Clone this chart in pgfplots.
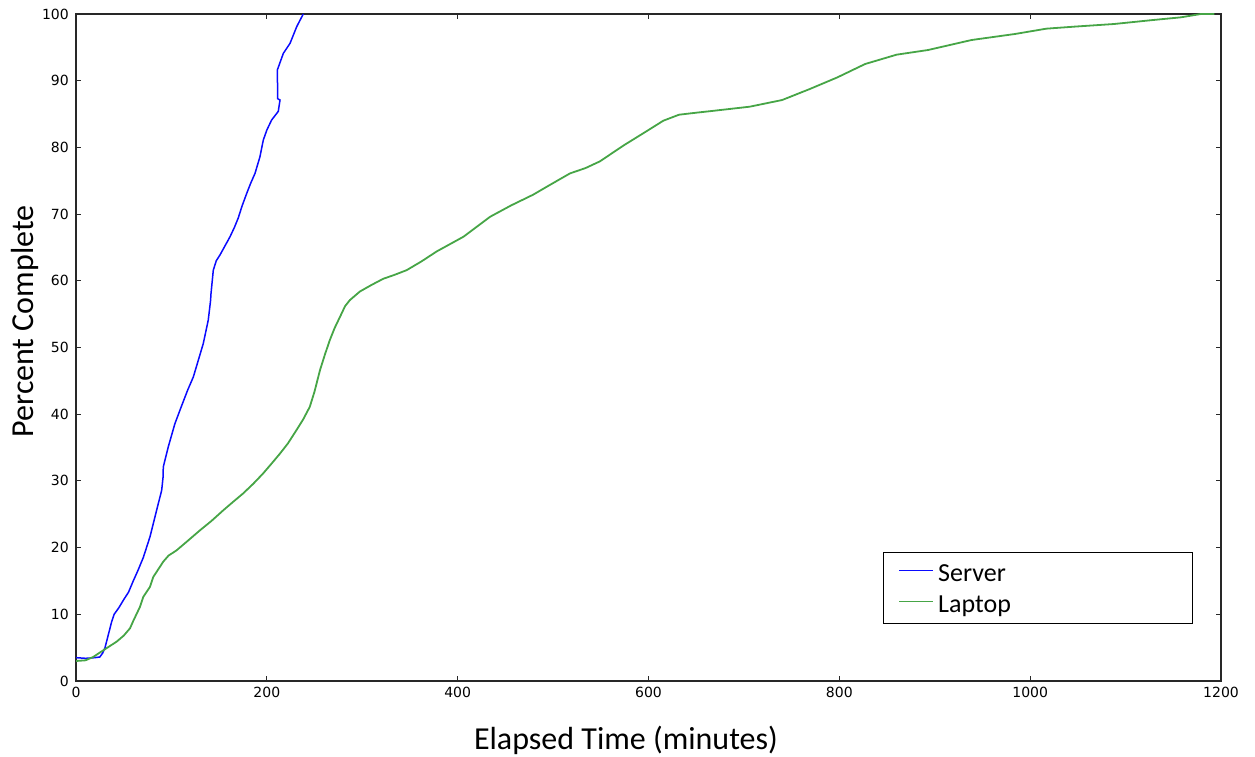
\documentclass[border=0pt]{standalone}
\usepackage{fontspec}
\setmainfont{Carlito}
\newfontfamily\dejavu{DejaVu Sans}
\usepackage{pgfplots}
\pgfplotsset{compat=1.18}
\definecolor{srv}{RGB}{10,10,255}
\definecolor{lap}{RGB}{70,165,70}
\definecolor{frame}{RGB}{40,40,40}
\begin{document}
\begin{tikzpicture}
\path[use as bounding box] (-76pt,-76pt) rectangle (1179pt,681pt);
\begin{axis}[
 scale only axis, width=1145pt, height=667pt,
 xmin=0,xmax=1200,ymin=0,ymax=100,
 xtick={0,200,...,1200}, ytick={0,10,...,100},
 tick align=inside, major tick length=5pt,
 tick style={line width=0.8pt, color=frame},
 axis line style={line width=1.6pt, draw=frame},
 /pgf/number format/assume math mode=true,
 /pgf/number format/1000 sep={},
 tick label style={font=\dejavu\fontsize{14pt}{16pt}\selectfont, inner sep=0pt},
 xticklabel style={yshift=-6pt},
 yticklabel style={xshift=-7pt},
 xlabel={Elapsed Time (minutes)},
 ylabel={Percent Complete},
 label style={font=\fontsize{32pt}{36pt}\selectfont},
 xlabel style={at={(axis description cs:0.4803,-0.1034)}, anchor=base},
 ylabel style={at={(axis description cs:-0.0367,0.539)}, anchor=base},
 legend style={at={(rel axis cs:0.7048,0.1934)}, anchor=north west, draw=black, line width=1.2pt,
   inner xsep=15pt, inner ysep=11.5pt, row sep=14pt, column sep=4pt,
   font=\fontsize{26pt}{28pt}\selectfont,
   nodes={inner sep=0pt, text height=17pt, text depth=0pt}},
 legend cell align=left,
 legend image code/.code={\draw[#1, line width=1.6pt] (0pt,2pt) -- (34pt,2pt);},
]
\addplot[srv, line width=1.5pt] coordinates {
(0,3.5) (10,3.4) (20,3.5) (25,3.6) (28,4.2) (30.4,5.0) (34,7.0) (37.4,8.9) (40,10.0) (45,11) (50,12.2) (55,13.3) (60,15.0) (65,16.6) (70.5,18.5) (77.5,21.6) (84.5,25.6) (89.8,28.6) (91.2,30.5) (91.5,32.1) (96.7,35.1) (103.7,38.6) (110,41) (117,43.6) (123,45.6) (128,48) (133.4,50.6) (138.6,54.1) (141,57) (141.5,58.1) (143.9,61.6) (147,63) (151,63.9) (156,65.2) (161.4,66.6) (166,68) (170,69.4) (174,71.2) (178.9,73.1) (183,74.6) (187.6,76.1) (192.8,78.6) (196.3,81.1) (200,82.6) (205,84.1) (212,85.4) (213.8,87.1) (211.4,87.3) (211,91.6) (217.3,94.1) (224.3,95.6) (231.3,98.1) (238.2,100)
};
\addlegendentry{\makebox[239pt][l]{Server}}
\addplot[lap, line width=1.8pt] coordinates {
(0,3.0) (10,3.1) (18,3.6) (28.6,4.6) (42.6,5.9) (50,6.8) (56.6,7.9) (60,9.0) (67,11.1) (70.5,12.6) (77.5,14.1) (81,15.6) (91.5,17.9) (97,18.8) (105.5,19.6) (117,21) (130,22.6) (142,24) (154.4,25.6) (165,26.9) (175,28.1) (186,29.6) (196,31.1) (205,32.6) (213.8,34.1) (222,35.6) (231,37.6) (238,39.2) (245,41.1) (250,43.4) (255.7,46.6) (261,49) (266,51.1) (271,52.9) (276.7,54.6) (282,56.2) (287,57.1) (297.6,58.4) (310,59.4) (322,60.3) (334,60.9) (346.6,61.6) (362,62.9) (378,64.4) (392,65.5) (406,66.6) (420,68.1) (434,69.6) (456,71.3) (479,72.9) (497,74.4) (517.7,76.1) (534,76.9) (549,77.9) (574,80.3) (598.8,82.5) (615.5,84.0) (632,84.9) (650,85.2) (669,85.5) (706,86.1) (740,87.1) (769,88.75) (798,90.5) (827,92.5) (860,93.9) (893,94.6) (938.6,96.1) (984,97.0) (1017,97.8) (1046,98.1) (1088,98.5) (1129,99.1) (1158,99.5) (1179,100) (1193,100)
};
\addlegendentry{\makebox[239pt][l]{Laptop}}
\end{axis}
\end{tikzpicture}
\end{document}
